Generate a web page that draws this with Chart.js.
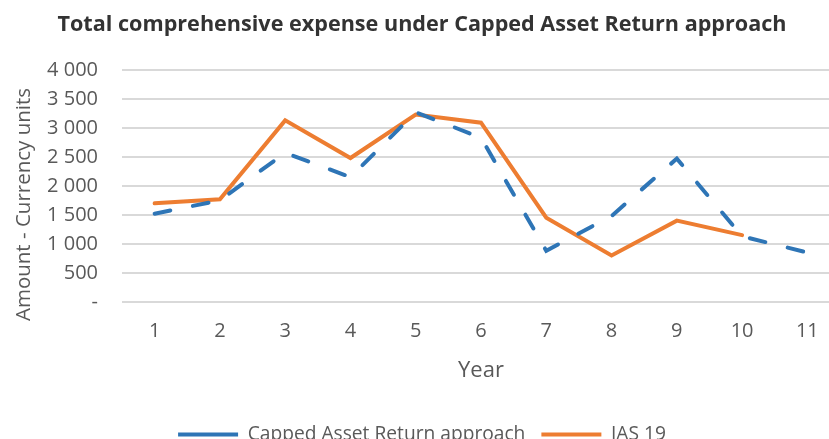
<!DOCTYPE html>
<html>
<head>
<meta charset="utf-8">
<script src="https://cdn.jsdelivr.net/npm/chart.js@4"></script>
<style>
  html, body { margin: 0; padding: 0; background: #fff; overflow: hidden; }
  #wrap { width: 846px; height: 454px; position: relative; }
</style>
</head>
<body>
<div id="wrap"><canvas id="chart"></canvas></div>
<script>
// values
const years = ['1', '2', '3', '4', '5', '6', '7', '8', '9', '10', '11'];
const cappedAssetReturn = [1520, 1750, 2570, 2150, 3270, 2830, 880, 1480, 2470, 1130, 850];
const ias19 = [1700, 1770, 3130, 2480, 3230, 3090, 1450, 800, 1400, 1150, null];
const yTicks = [0, 500, 1000, 1500, 2000, 2500, 3000, 3500, 4000];

const fmt = v => v === 0 ? '-' : String(v).replace(/\B(?=(\d{3})+(?!\d))/g, ' ');
const grey = '#595959';

new Chart(document.getElementById('chart'), {
    type: 'line',
    data: {
        labels: years,
        datasets: [{
            label: 'Capped Asset Return approach',
            data: cappedAssetReturn,
            borderColor: '#2e75b6',
            backgroundColor: '#2e75b6',
            borderWidth: 4,
            borderDash: [16, 23],
            borderCapStyle: 'round',
            pointRadius: 0,
            tension: 0
        }, {
            label: 'IAS 19',
            data: ias19,
            borderColor: '#ed7d31',
            backgroundColor: '#ed7d31',
            borderWidth: 4,
            borderCapStyle: 'round',
            pointRadius: 0,
            tension: 0
        }]
    },
    options: {
        responsive: true,
        maintainAspectRatio: false,
        animation: false,
        layout: { padding: { left: 4, right: 6, top: 4, bottom: 0 } },
        plugins: {
            title: {
                display: true,
                text: 'Total comprehensive expense under Capped Asset Return approach',
                color: '#333333',
                font: { family: 'Open Sans', size: 21.6, weight: 'bold' },
                padding: { top: 8, bottom: 32 }
            },
            legend: {
                position: 'bottom',
                labels: {
                    color: grey,
                    font: { family: 'Open Sans', size: 19.2 },
                    usePointStyle: true,
                    pointStyle: 'line',
                    pointStyleWidth: 60,
                    boxWidth: 60,
                    boxHeight: 4,
                    padding: 16
                }
            },
            tooltip: { enabled: false }
        },
        scales: {
            x: {
                offset: true,
                grid: { display: false, drawTicks: false },
                border: { display: false },
                ticks: { color: grey, font: { family: 'Open Sans', size: 20, lineHeight: 1 }, padding: 19 },
                title: { display: true, text: 'Year', color: grey, font: { family: 'Open Sans', size: 22, lineHeight: 1 }, padding: { top: 0, bottom: 27 } }
            },
            y: {
                min: 0,
                max: 4000,
                afterBuildTicks: axis => { axis.ticks = yTicks.map(v => ({ value: v })); },
                afterFit: axis => { axis.width = 118; },
                grid: { color: '#d9d9d9', lineWidth: 2, drawTicks: false },
                border: { display: false },
                ticks: { color: grey, font: { family: 'Open Sans', size: 20 }, padding: 24, callback: v => fmt(v) },
                title: { display: true, text: 'Amount - Currency units       ', color: grey, font: { family: 'Open Sans', size: 20.5 }, padding: { top: 8, bottom: 6 } }
            }
        }
    }
});
</script>
</body>
</html>
